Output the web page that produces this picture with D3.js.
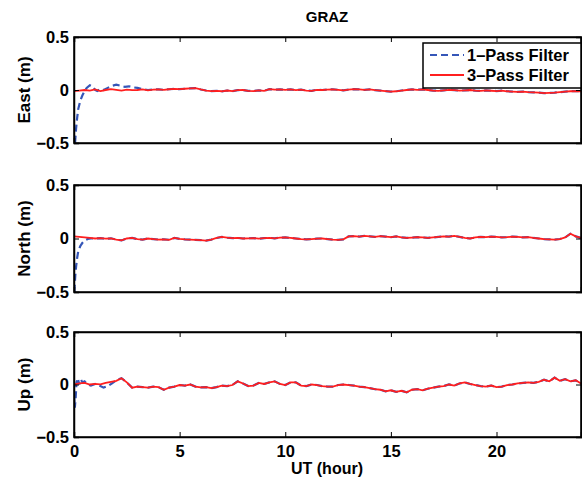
<!DOCTYPE html>
<html>
<meta charset="utf-8">
<style>
body { margin: 0; background: #fff; }
text { font-family: "Liberation Sans", Arial, sans-serif; font-weight: bold; fill: #000; }
</style>
<!-- Load d3.js -->
<script src="https://d3js.org/d3.v7.min.js"></script>
<body>
<div id="my_dataviz"></div>
<script>
// ---- data (metres), 3-pass filter sampled every 0.25 h from 0 to 24 h
var hours = d3.range(0, 24.001, 0.25);

var east3 = [-0.01,-0.005,0.0,-0.005,0.005,-0.01,0.0,0.008,0.002,-0.005,0.003,-0.002,0.0,0.005,-0.003,0.004,
  0.006,0.002,0.007,0.01,0.008,0.012,0.015,0.018,0.005,-0.005,-0.01,-0.008,-0.012,-0.005,-0.01,-0.002,
  0.0,-0.008,-0.01,-0.004,-0.008,0.008,0.003,0.005,0.002,0.006,-0.002,0.004,-0.005,-0.008,0.002,0.0,
  0.004,0.006,0.002,-0.004,0.003,0.008,0.005,0.002,0.006,-0.002,-0.005,-0.01,-0.015,-0.012,-0.005,0.0,
  0.005,0.002,0.006,0.0,-0.005,-0.008,-0.003,0.002,-0.002,-0.006,-0.003,0.0,-0.005,-0.008,-0.004,-0.007,
  -0.01,-0.006,-0.012,-0.015,-0.018,-0.015,-0.02,-0.022,-0.025,-0.03,-0.028,-0.025,-0.02,-0.015,-0.012,-0.01,-0.012];

var north3 = [0.02,0.015,0.01,0.005,0.0,0.003,-0.002,0.002,-0.01,-0.018,0.0,0.005,-0.005,-0.01,0.0,-0.005,
  -0.01,-0.008,-0.012,0.005,-0.003,-0.008,-0.01,-0.012,-0.015,-0.02,-0.01,0.005,0.015,0.008,0.003,0.005,
  0.0,0.002,0.004,-0.002,0.003,0.006,0.002,0.008,0.01,0.005,0.0,-0.005,-0.008,-0.005,-0.002,0.0,
  -0.005,-0.01,-0.012,-0.008,0.02,0.022,0.018,0.025,0.02,0.015,0.022,0.018,0.012,0.02,0.01,0.005,
  0.008,0.012,0.01,0.005,0.01,0.015,0.02,0.018,0.025,0.015,0.005,0.0,0.01,0.015,0.012,0.018,
  0.015,0.01,0.012,0.018,0.015,0.01,0.012,0.005,0.0,-0.005,-0.008,-0.01,-0.005,0.01,0.045,0.02,0.005];

var up3 = [0.0,0.01,0.015,0.0,0.005,0.002,0.015,0.025,0.035,0.06,0.02,-0.03,-0.02,-0.025,-0.03,-0.02,
  -0.025,-0.05,-0.03,-0.02,-0.005,-0.01,0.0,-0.02,-0.028,-0.025,-0.035,-0.025,-0.01,-0.015,-0.005,0.03,
  0.01,-0.015,-0.01,0.015,0.005,0.02,0.03,0.005,-0.005,0.02,0.02,-0.01,-0.015,0.0,-0.005,-0.015,
  -0.02,-0.02,-0.005,0.0,-0.005,-0.01,-0.02,-0.025,-0.035,-0.045,-0.05,-0.065,-0.055,-0.07,-0.06,-0.075,
  -0.05,-0.045,-0.055,-0.04,-0.03,-0.02,-0.015,0.0,-0.01,0.01,0.02,0.005,-0.005,-0.015,-0.02,-0.01,
  -0.025,-0.02,-0.005,0.0,0.01,0.015,0.02,0.015,0.025,0.045,0.03,0.065,0.035,0.05,0.03,0.04,0.01];

// 1-pass filter: convergence at the start, afterwards it lies on the 3-pass curve
var east1Hours = [0,0.05,0.1,0.15,0.2,0.3,0.4,0.5,0.6,0.75,0.9,1.0,1.1,1.25,1.4,1.6,1.8,2.0,2.2,2.4,2.6,2.8,3.0,3.2,3.5,3.75,4.0];
var east1 = [-0.6,-0.5,-0.36,-0.26,-0.18,-0.1,-0.05,-0.01,0.02,0.045,0.03,0.0,-0.01,0.01,0.0,0.02,0.04,0.05,0.04,0.03,0.035,0.025,0.02,0.01,0.0,0.005,0.006];
var north1Hours = [0,0.03,0.06,0.1,0.15,0.2,0.3,0.4,0.5,0.65,0.8,1.0];
var north1 = [-0.6,-0.45,-0.35,-0.26,-0.18,-0.12,-0.07,-0.04,-0.02,-0.005,0.0,0.0];
var up1Hours = [0,0.04,0.08,0.12,0.18,0.25,0.32,0.4,0.5,0.65,0.8,1.0,1.2,1.4,1.6,1.8,2.0];
var up1 = [-0.1,-0.22,-0.12,0.02,0.06,0.0,0.05,0.02,0.03,0.0,-0.01,0.005,-0.01,-0.03,-0.015,0.01,0.04];

var yTicks = [-0.5, 0, 0.5];
var xTicks = [0, 5, 10, 15, 20];
var legendLabels = ["1\u2013Pass Filter", "3\u2013Pass Filter"];

var panels = [
  {name: "East (m)",  top: 37,  bottom: 143, v1h: east1Hours,  v1: east1,  v3: east3},
  {name: "North (m)", top: 185, bottom: 292, v1h: north1Hours, v1: north1, v3: north3},
  {name: "Up (m)",    top: 332, bottom: 437, v1h: up1Hours,    v1: up1,    v3: up3}
];

var blue = "#3556b8", red = "#ff1f1f";

// append the svg object to the body of the page
var svg = d3.select("#my_dataviz")
  .append("svg")
    .attr("width", 582)
    .attr("height", 481);

var x = d3.scaleLinear().domain([0, 24]).range([74, 581]);
var fmt = function(d){ return d === 0 ? "0" : (d < 0 ? "\u2212" + Math.abs(d) : String(d)); };

svg.append("text")
  .attr("x", 327).attr("y", 22)
  .attr("text-anchor", "middle")
  .style("font-size", "15px")
  .text("GRAZ");

panels.forEach(function(p, k){
  var y = d3.scaleLinear().domain([-0.5, 0.5]).range([p.bottom, p.top]);

  svg.append("clipPath").attr("id", "clip" + k)
    .append("rect")
      .attr("x", x(0)).attr("y", p.top)
      .attr("width", x(24) - x(0)).attr("height", p.bottom - p.top);

  var line = d3.line()
    .x(function(d){ return x(d[0]); })
    .y(function(d){ return y(d[1]); });

  // 1-pass: early part + the rest where it coincides with the 3-pass curve
  var pts1 = p.v1h.map(function(h, i){ return [h, p.v1[i]]; });
  var last = p.v1h[p.v1h.length - 1];
  hours.forEach(function(h, i){ if (h > last) pts1.push([h, p.v3[i]]); });
  var pts3 = hours.map(function(h, i){ return [h, p.v3[i]]; });

  var g = svg.append("g").attr("clip-path", "url(#clip" + k + ")");
  g.append("path")
    .datum(pts1)
    .attr("fill", "none")
    .attr("stroke", blue)
    .attr("stroke-width", 2.2)
    .attr("stroke-dasharray", "7,4")
    .attr("d", line);
  g.append("path")
    .datum(pts3)
    .attr("fill", "none")
    .attr("stroke", red)
    .attr("stroke-width", 1.8)
    .attr("d", line);

  // axes, matlab style: ticks inward on every side
  var h = p.bottom - p.top, w = x(24) - x(0);
  svg.append("g")
    .attr("class", "xb")
    .attr("transform", "translate(0," + p.bottom + ")")
    .call(d3.axisBottom(x).tickValues(xTicks).tickSize(-5).tickFormat(k === 2 ? null : ""));
  svg.append("g")
    .attr("transform", "translate(0," + p.top + ")")
    .call(d3.axisTop(x).tickValues(xTicks).tickSize(-5).tickFormat(""));
  svg.append("g")
    .attr("class", "yl")
    .attr("transform", "translate(" + x(0) + ",0)")
    .call(d3.axisLeft(y).tickValues(yTicks).tickSize(-5).tickFormat(fmt));
  svg.append("g")
    .attr("transform", "translate(" + x(24) + ",0)")
    .call(d3.axisRight(y).tickValues(yTicks).tickSize(-5).tickFormat(""));

  svg.append("rect")
    .attr("x", x(0)).attr("y", p.top)
    .attr("width", w).attr("height", h)
    .attr("fill", "none").attr("stroke", "#000").attr("stroke-width", 1.5);

  svg.append("text")
    .attr("transform", "translate(30," + (p.top + h / 2) + ") rotate(-90)")
    .attr("text-anchor", "middle")
    .style("font-size", "17px")
    .text(p.name);
});

svg.selectAll(".domain").attr("stroke-width", 1.5);
svg.selectAll(".tick line").attr("stroke-width", 1);
svg.selectAll(".tick text")
  .style("font-size", "16.5px")
  .style("font-family", "'Liberation Sans', Arial, sans-serif")
  .style("font-weight", "bold");
svg.selectAll(".yl .tick text").attr("x", -5);
svg.selectAll(".xb .tick text").attr("y", 8);

svg.append("text")
  .attr("x", 327).attr("y", 474)
  .attr("text-anchor", "middle")
  .style("font-size", "16px")
  .text("UT (hour)");

// Legend
var leg = svg.append("g");
leg.append("rect")
  .attr("x", 423).attr("y", 43).attr("width", 158).attr("height", 45)
  .attr("fill", "#fff").attr("stroke", "#000").attr("stroke-width", 1.5);
[blue, red].forEach(function(c, i){
  var yy = 55 + i * 20;
  leg.append("line")
    .attr("x1", 430).attr("x2", 464).attr("y1", yy).attr("y2", yy)
    .attr("stroke", c)
    .attr("stroke-width", i === 0 ? 2.2 : 1.8)
    .attr("stroke-dasharray", i === 0 ? "7,4" : null);
  leg.append("text")
    .attr("x", 467).attr("y", yy + 6)
    .style("font-size", "16.5px")
    .text(legendLabels[i]);
});
</script>
</body>
</html>
